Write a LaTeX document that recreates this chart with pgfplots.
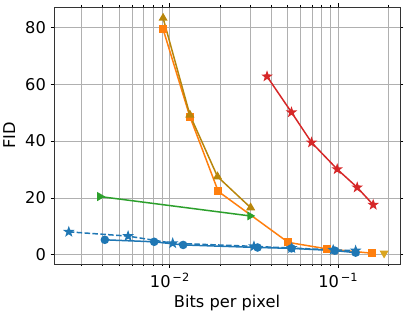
\documentclass[border=0pt]{standalone}
\usepackage{pgfplots}
\pgfplotsset{compat=1.18}
\usepackage{fontspec}
\setmainfont{DejaVu Sans}
\definecolor{tblue}{HTML}{1F77B4}
\definecolor{torange}{HTML}{FF7F0E}
\definecolor{tgreen}{HTML}{2CA02C}
\definecolor{tred}{HTML}{D62728}
\definecolor{tolive}{HTML}{B8860B}
\definecolor{tgold}{HTML}{DAA520}
\definecolor{gridc}{HTML}{B0B0B0}
\pgfdeclareplotmark{fstar}{%
  \pgfpathmoveto{\pgfpointpolar{90}{\pgfplotmarksize}}%
  \pgfpathlineto{\pgfpointpolar{126}{0.4\pgfplotmarksize}}%
  \pgfpathlineto{\pgfpointpolar{162}{\pgfplotmarksize}}%
  \pgfpathlineto{\pgfpointpolar{198}{0.4\pgfplotmarksize}}%
  \pgfpathlineto{\pgfpointpolar{234}{\pgfplotmarksize}}%
  \pgfpathlineto{\pgfpointpolar{270}{0.4\pgfplotmarksize}}%
  \pgfpathlineto{\pgfpointpolar{306}{\pgfplotmarksize}}%
  \pgfpathlineto{\pgfpointpolar{342}{0.4\pgfplotmarksize}}%
  \pgfpathlineto{\pgfpointpolar{18}{\pgfplotmarksize}}%
  \pgfpathlineto{\pgfpointpolar{54}{0.4\pgfplotmarksize}}%
  \pgfpathclose
  \pgfusepathqfillstroke
}
\begin{document}
\fontsize{16.3}{19}\selectfont
\begin{tikzpicture}
\useasboundingbox (-54bp,-48bp) rectangle (353bp,264bp);
\begin{axis}[
  at={(0,0)}, anchor=south west,
  scale only axis, width=346bp, height=257bp,
  xmode=log, xmin=0.00205, xmax=0.233,
  ymin=-3.2, ymax=87.1,
  ytick={0,20,40,60,80},
  xtick={0.01,0.1},
  minor xtick={0.003,0.004,0.005,0.006,0.007,0.008,0.009,0.02,0.03,0.04,0.05,0.06,0.07,0.08,0.09,0.2},
  xticklabels={10\textsuperscript{\,−2},10\textsuperscript{\,−1}},
  /pgf/number format/assume math mode=true,
  tick align=outside,
  major tick length=3.5bp, minor tick length=2bp,
  tick style={black, line width=0.8bp},
  axis line style={black!80, line width=0.8bp},
  xmajorgrids, xminorgrids, ymajorgrids,
  major grid style={gridc, line width=0.8bp},
  minor grid style={gridc, line width=0.8bp},
  yticklabel style={xshift=1bp},
  xlabel={Bits per pixel}, ylabel={FID},
  xlabel style={yshift=4bp},
  ylabel style={yshift=-1bp},
  every axis plot/.append style={line width=1.5bp, mark size=3.5bp},
  clip=false,
]
\addplot[torange, mark=square*, mark size=3.2bp] coordinates {
(0.00912,79.3)(0.01315,48.6)(0.0194,22.3)(0.0505,4.4)(0.086,2.1)(0.158,0.6)};
\addplot[tolive, mark=triangle*, mark size=3.8bp] coordinates {
(0.00912,83.2)(0.01315,49.2)(0.0192,27.5)(0.0302,16.6)};
\addplot[tgreen, mark=triangle*, mark size=3.8bp, mark options={rotate=-90}] coordinates {
(0.00384,20.5)(0.0299,13.7)};
\addplot[tred, mark=fstar, mark size=3.8bp] coordinates {
(0.0378,62.7)(0.0528,50.1)(0.0695,39.5)(0.0987,30.1)(0.1298,23.7)(0.1615,17.6)};
\addplot[tblue, dash pattern=on 5.5bp off 2.4bp, mark=fstar, mark size=3.8bp, mark options={solid}] coordinates {
(0.00251,8.1)(0.00565,6.6)(0.0104,4.1)(0.0316,3.0)(0.053,2.4)(0.0934,1.75)(0.127,1.5)};
\addplot[tblue, mark=*] coordinates {
(0.00411,5.3)(0.00807,4.6)(0.0120,3.5)(0.0332,2.6)(0.0528,2.3)(0.0955,1.5)(0.127,0.8)};
\addplot[tgold, only marks, mark=triangle*, mark size=3.8bp, mark options={rotate=180}] coordinates {
(0.1875,0.6)};
\end{axis}
\end{tikzpicture}
\end{document}
